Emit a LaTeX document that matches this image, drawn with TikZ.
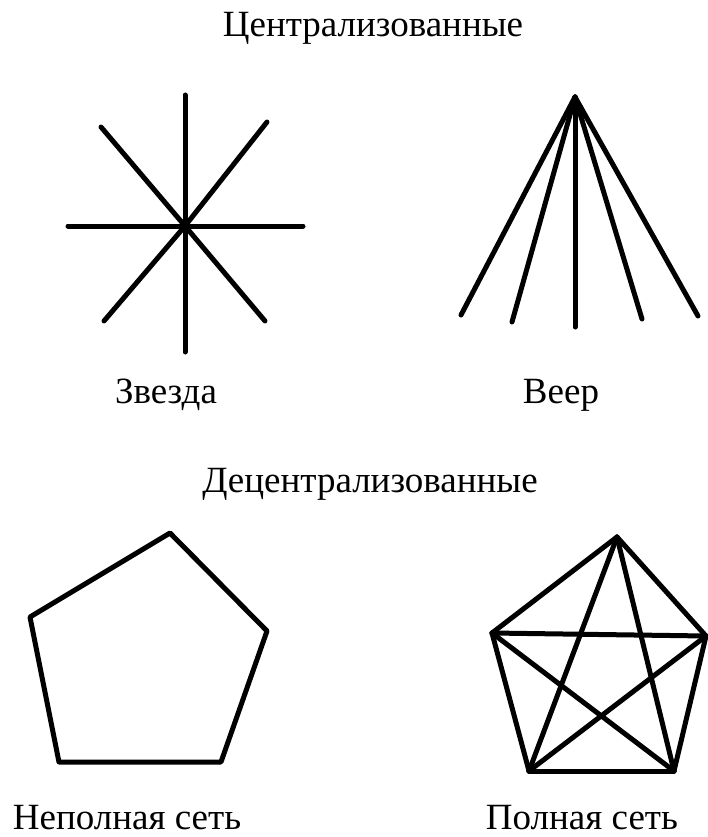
\documentclass[tikz,border=0pt]{standalone}
\usepackage{fontspec}
\setmainfont{Liberation Serif}
\usepackage{tikz}
\usetikzlibrary{calc}

\tikzset{
  edge/.style={line width=5pt, line cap=round, line join=round},
  caption/.style={anchor=base, inner sep=0pt, font=\fontsize{37}{40}\selectfont}
}

\begin{document}
\begin{tikzpicture}[x=1pt, y=-1pt]
  \useasboundingbox (0,0) rectangle (708,837);

  % headings
  \node[caption] (centr)   at (373,37)  {Централизованные};
  \node[caption] (decentr) at (370,492) {Децентрализованные};

  % star
  \coordinate (sc) at (185,226);
  \coordinate (s1) at (185,95);
  \coordinate (s2) at (267,122);
  \coordinate (s3) at (303,226);
  \coordinate (s4) at (265,321);
  \coordinate (s5) at (185,352);
  \coordinate (s6) at (104,321);
  \coordinate (s7) at (68,226);
  \coordinate (s8) at (101,127);
  \foreach \i in {1,...,8}
    \draw[edge] (sc) -- (s\i);
  \node[caption] (star) at (166,403) {Звезда};

  % fan
  \coordinate (fa) at (575,97);
  \coordinate (f1) at (461,315);
  \coordinate (f2) at (512,322);
  \coordinate (f3) at (575,327);
  \coordinate (f4) at (642,319);
  \coordinate (f5) at (698,316);
  \foreach \i in {1,...,5}
    \draw[edge] (fa) -- (f\i);
  \node[caption] (fan) at (561,403) {Веер};

  % ring
  \coordinate (p1) at (170,533);
  \coordinate (p2) at (267,631);
  \coordinate (p3) at (221,762);
  \coordinate (p4) at (59,762);
  \coordinate (p5) at (30,617);
  \draw[edge] (p1) -- (p2) -- (p3) -- (p4) -- (p5) -- cycle;
  \node[caption] (ring) at (127,829) {Неполная сеть};

  % full mesh
  \coordinate (q1) at (617,537);
  \coordinate (q2) at (706,636);
  \coordinate (q3) at (674,771);
  \coordinate (q4) at (529,771);
  \coordinate (q5) at (492,633);
  \foreach \a/\b in {1/2,1/3,1/4,1/5,2/3,2/4,2/5,3/4,3/5,4/5}
    \draw[edge] (q\a) -- (q\b);
  \node[caption] (mesh) at (582,829) {Полная сеть};
\end{tikzpicture}
\end{document}
